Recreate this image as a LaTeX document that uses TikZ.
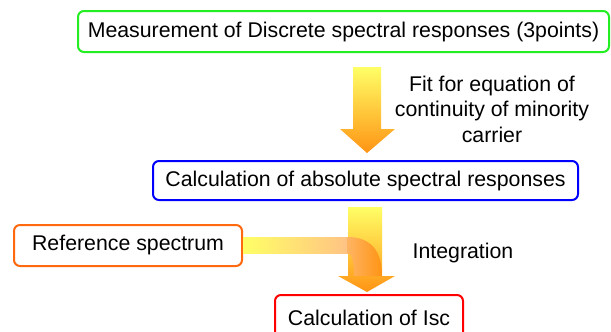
\documentclass[tikz,border=0pt]{standalone}
\usepackage{fontspec}
\setmainfont{Liberation Sans}
\usepackage{xcolor}
\usepackage{tikz}
\usetikzlibrary{calc,positioning}
\definecolor{measc}{HTML}{22EE22}
\definecolor{absc}{HTML}{0000FF}
\definecolor{refc}{HTML}{FF6A10}
\definecolor{iscc}{HTML}{FF0000}
\definecolor{arrtop}{HTML}{FFFF66}
\definecolor{arrbot}{HTML}{FF9414}
\definecolor{peach}{HTML}{FFC285}
\newcommand{\bigfont}{\fontsize{21.3}{25.5}\selectfont}
\tikzset{
  box/.style={draw,line width=2pt,rounded corners=6pt,fill=white,inner sep=0pt,font=\bigfont},
  lbl/.style={align=center,font=\bigfont}
}

\begin{document}
\begin{tikzpicture}[x=1pt,y=-1pt]
\clip (0,0) rectangle (611,332);
% boxes
\node[box,draw=measc,minimum width=531pt,minimum height=41pt] (meas) at (343.5,31.5) {Measurement of Discrete spectral responses (3points)};
\node[box,draw=absc,minimum width=425pt,minimum height=39pt] (abs) at (365.5,180.5) {Calculation of absolute spectral responses};
\node[box,draw=refc,minimum width=228pt,minimum height=41pt] (ref) at (128,245.5) {Reference spectrum};
\node[box,draw=iscc,minimum width=188pt,minimum height=46pt] (isc) at (369,318) {Calculation of Isc};
% block arrow: measurement -> absolute
\shade[top color=arrtop,bottom color=arrbot] (353,67) -- (381,67) -- (381,129) -- (395,129) -- (367,153) -- (340,129) -- (353,129) -- cycle;
\node[lbl] (fit) at (492,109) {Fit for equation of\\continuity of minority\\carrier};
% block arrow: absolute -> Isc, joined by the reference spectrum
\shade[top color=arrtop,bottom color=arrbot] (348,207) -- (382,207) -- (382,276) -- (395,276) -- (367,292) -- (338,276) -- (348,276) -- cycle;
\shade[left color=arrtop,right color=peach] ($(ref.east)+(0,-8)$) rectangle ++(106,16);
\shade[left color=peach!70!arrbot,right color=arrbot] (347,237) .. controls (372,237) and (382,252) .. (382,276) -- (354,276) .. controls (354,262) and (352,253) .. (347,253) -- cycle;
\node[lbl] (integ) at (463,253) {Integration};
\end{tikzpicture}
\end{document}
